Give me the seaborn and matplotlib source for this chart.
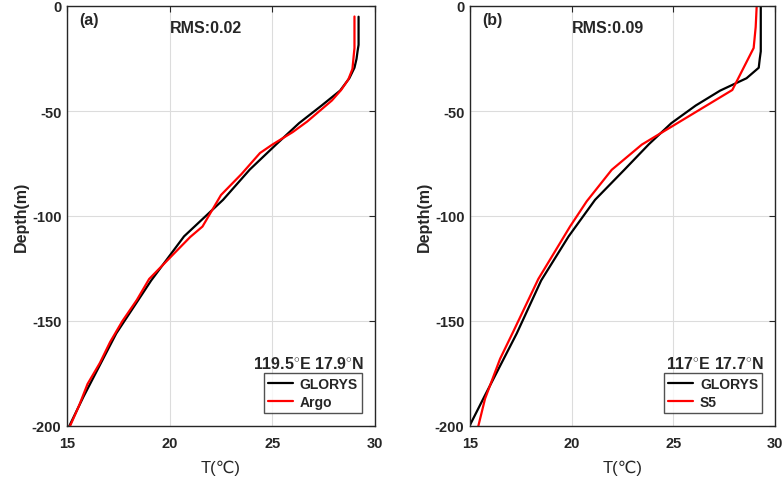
import numpy as np
import pandas as pd
import matplotlib
matplotlib.use('Agg')
import matplotlib.pyplot as plt
import seaborn as sns

sns.set_style("white")
plt.rcParams['font.family'] = ['Liberation Sans', 'DejaVu Sans']
plt.rcParams['mathtext.fontset'] = 'custom'
plt.rcParams['mathtext.rm'] = 'Liberation Sans'
plt.rcParams['axes.unicode_minus'] = False

# panel (a): GLORYS vs Argo
glorys_a_depth = [5.1, 6.4, 7.9, 9.6, 11.4, 13.5, 15.8, 18.5, 21.6, 25.2, 29.4, 34.4,
                  40.3, 47.4, 55.8, 65.8, 77.9, 92.3, 109.7, 130.7, 155.9, 186.1, 222.5]
glorys_a_temp = [29.2, 29.2, 29.2, 29.2, 29.2, 29.2, 29.2, 29.2, 29.15, 29.1, 29.0, 28.75,
                 28.3, 27.4, 26.3, 25.2, 23.9, 22.6, 20.7, 19.1, 17.4, 15.8, 14.0]
argo_depth = [5, 10, 20, 30, 35, 40, 45, 50, 55, 60, 66, 70, 80, 90, 100, 105, 110,
              120, 130, 140, 150, 160, 170, 180, 190, 200]
argo_temp = [29.0, 29.0, 29.0, 28.9, 28.7, 28.35, 27.9, 27.3, 26.7, 26.0, 25.0, 24.4,
             23.5, 22.5, 21.9, 21.6, 21.0, 20.0, 19.0, 18.4, 17.7, 17.1, 16.6, 16.0,
             15.6, 15.15]

# panel (b): GLORYS vs S5
glorys_b_depth = [0.5, 5.1, 9.6, 15.8, 21.6, 25.2, 29.4, 34.4, 40.3, 47.4, 55.8, 65.8,
                  77.9, 92.3, 109.7, 130.7, 155.9, 186.1, 222.5]
glorys_b_temp = [29.3, 29.3, 29.3, 29.3, 29.3, 29.25, 29.2, 28.6, 27.3, 26.1, 24.9, 23.8,
                 22.6, 21.15, 19.85, 18.5, 17.3, 15.7, 13.8]
s5_depth = [0, 10, 20, 40, 66, 78, 93, 105, 130, 155, 168, 187, 200]
s5_temp = [29.1, 29.05, 28.95, 27.9, 23.45, 21.97, 20.74, 19.92, 18.36, 17.13, 16.48,
           15.74, 15.41]

panels = [
    ('(a)', 'RMS:0.02', '119.5$^{\\circ}$E 17.9$^{\\circ}$N', 'Argo',
     glorys_a_depth, glorys_a_temp, argo_depth, argo_temp),
    ('(b)', 'RMS:0.09', '117$^{\\circ}$E 17.7$^{\\circ}$N', 'S5',
     glorys_b_depth, glorys_b_temp, s5_depth, s5_temp),
]

fig = plt.figure(figsize=(7.83, 4.81), dpi=100)
ax_pos = [[67 / 783, 1 - 427 / 481, 308 / 783, 420 / 481],
          [470 / 783, 1 - 427 / 481, 305 / 783, 420 / 481]]

for pos, (tag, rms, loc, name, gd, gt, od, ot) in zip(ax_pos, panels):
    ax = fig.add_axes(pos)
    df_g = pd.DataFrame({'T': gt, 'D': -np.array(gd)})
    df_o = pd.DataFrame({'T': ot, 'D': -np.array(od)})
    sns.lineplot(data=df_g, x='T', y='D', sort=False, estimator=None, color='black',
                 lw=1.6, label='GLORYS', ax=ax)
    sns.lineplot(data=df_o, x='T', y='D', sort=False, estimator=None, color='red',
                 lw=1.6, label=name, ax=ax)

    ax.set_xlim(15, 30)
    ax.set_ylim(-200, 0)
    ax.set_xticks([15, 20, 25, 30])
    ax.set_yticks([0, -50, -100, -150, -200])
    ax.grid(True, color='#dcdcdc', lw=0.8)
    for s in ax.spines.values():
        s.set_color('#262626')
        s.set_linewidth(1.0)
    ax.tick_params(direction='in', length=4, width=0.8, top=True, right=True,
                   labelsize=10.5, colors='#262626', labelcolor='#262626')
    ax.tick_params(axis='x', pad=7)
    ax.tick_params(axis='y', pad=4)
    for lab in ax.get_xticklabels() + ax.get_yticklabels():
        lab.set_fontweight('bold')

    ax.set_xlabel('T(℃)', fontsize=12, color='#262626', labelpad=7)
    ax.set_ylabel('Depth(m)', fontsize=11.5, fontweight='bold', color='#262626',
                  labelpad=2)

    ax.text(0.04, 0.985, tag, transform=ax.transAxes, ha='left', va='top',
            fontsize=11.5, fontweight='bold')
    ax.text(20, -6.8, rms, ha='left', va='top', fontsize=11.5, fontweight='bold')
    ax.text(0.964, 0.131, loc, transform=ax.transAxes, ha='right', va='bottom',
            fontsize=11.5, fontweight='bold')

    leg = ax.legend(loc='lower right', bbox_to_anchor=(0.958, 0.031), fontsize=10,
                    frameon=True, fancybox=False, handlelength=1.8,
                    borderpad=0.3, labelspacing=0.25, handletextpad=0.5,
                    borderaxespad=0.0)
    leg.get_frame().set_edgecolor('#262626')
    leg.get_frame().set_linewidth(1.0)
    for t in leg.get_texts():
        t.set_fontweight('bold')

fig.savefig('out.png', dpi=100)
